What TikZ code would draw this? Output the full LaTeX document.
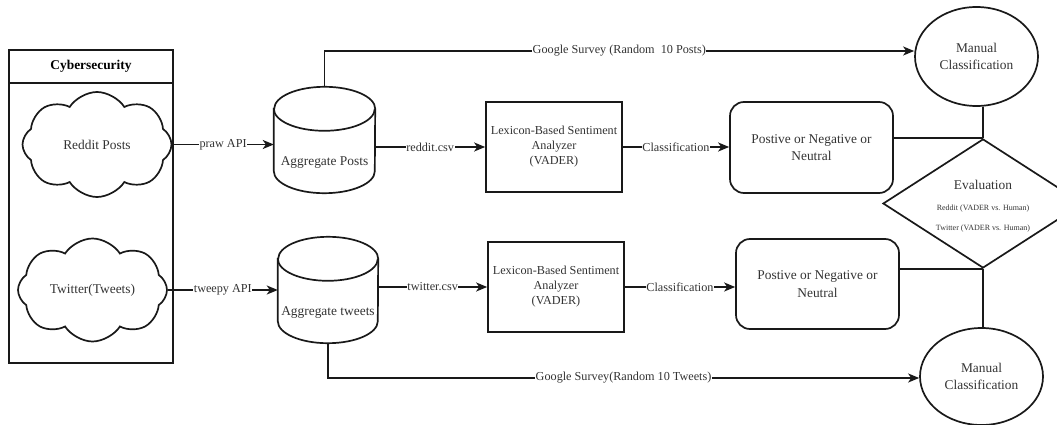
\documentclass[tikz,border=0pt]{standalone}
\usepackage{fontspec}
\setmainfont{Liberation Serif}
\usetikzlibrary{shapes.symbols,shapes.geometric,arrows.meta,calc}
\newcommand\myNF{\fontsize{13.4}{17.5}\selectfont}
\newcommand\myLF{\fontsize{12.2}{15}\selectfont}
\newcommand\mySF{\fontsize{8}{9.5}\selectfont}
\begin{document}
\begin{tikzpicture}[x=1pt,y=-1pt,
  ln/.style={line width=1.7pt, draw=black!90},
  arr/.style={ln, -{Stealth[length=11pt,width=9pt,inset=3pt]}},
  lbl/.style={fill=white, inner sep=0.5pt, font=\myLF, text=black!80},
  txt/.style={text=black!80},
  cloudn/.style={cloud, cloud puffs=8, cloud puff arc=115, cloud ignores aspect, draw, ln, inner sep=0pt, font=\myNF, txt},
  ghost/.style={draw=none, inner sep=0pt},
  lexbox/.style={draw, ln, rectangle, minimum width=136pt, minimum height=90pt, inner sep=0pt, align=center, font=\myLF, txt},
  resbox/.style={draw, ln, rectangle, rounded corners=14pt, minimum width=163pt, inner sep=0pt, align=center, font=\myNF, txt},
  manual/.style={draw, ln, ellipse, minimum width=123pt, inner sep=0pt, align=center, font=\myNF, txt}
]
\useasboundingbox (0,0) rectangle (1057,425);

% container
\node[draw, ln, minimum width=164pt, minimum height=33pt, inner sep=0pt, font=\myNF\bfseries] (hdr) at (91,66.5) {Cybersecurity};
\node[draw, ln, minimum width=164pt, minimum height=280pt, inner sep=0pt] (body) at (91,223) {};

% clouds
\node[cloudn, minimum width=149pt, minimum height=105pt] (reddit) at (97,144.5) {Reddit Posts};
\node[cloudn, minimum width=149pt, minimum height=103pt] (twitter) at (92.5,290) {Twitter(Tweets)};

% cylinders
\node[ghost, minimum width=101pt, minimum height=106pt] (agp) at (324.5,140) {};
\draw[ln] ([yshift=-22pt]agp.north west) -- ([yshift=22pt]agp.south west)
  arc[start angle=180,end angle=360,x radius=50.5pt,y radius=22pt]
  -- ([yshift=-22pt]agp.north east)
  arc[start angle=0,end angle=180,x radius=50.5pt,y radius=22pt] -- cycle;
\draw[ln] ([yshift=-22pt]agp.north west) arc[start angle=180,end angle=360,x radius=50.5pt,y radius=22pt];
\node[font=\myNF, txt] (agpt) at ([yshift=-23pt]agp.center) {Aggregate Posts};

\node[ghost, minimum width=100pt, minimum height=106pt] (agt) at (328,290) {};
\draw[ln] ([yshift=-22pt]agt.north west) -- ([yshift=22pt]agt.south west)
  arc[start angle=180,end angle=360,x radius=50pt,y radius=22pt]
  -- ([yshift=-22pt]agt.north east)
  arc[start angle=0,end angle=180,x radius=50pt,y radius=22pt] -- cycle;
\draw[ln] ([yshift=-22pt]agt.north west) arc[start angle=180,end angle=360,x radius=50pt,y radius=22pt];
\node[font=\myNF, txt] (agtt) at ([yshift=-23pt]agt.center) {Aggregate tweets};

% analyzers
\node[lexbox] (lex1) at (554,147) {Lexicon-Based Sentiment\\Analyzer\\(VADER)};
\node[lexbox] (lex2) at (556,287) {Lexicon-Based Sentiment\\Analyzer\\(VADER)};

% results
\node[resbox, minimum height=91pt] (rr1) at (811.5,147.5) {Postive or Negative or\\Neutral};
\node[resbox, minimum height=90pt] (rr2) at (817.5,284) {Postive or Negative or\\Neutral};

% manual classification
\node[manual, minimum height=99pt] (mc1) at (976.5,56.5) {Manual\\Classification};
\node[manual, minimum height=97pt] (mc2) at (981.5,376.5) {Manual\\Classification};

% evaluation
\node[draw, ln, diamond, minimum width=200pt, minimum height=129pt, inner sep=0pt] (dia) at (983,203.5) {};
\node[font=\myNF, txt] (evt) at ([yshift=18.5pt]dia.center) {Evaluation};
\node[font=\mySF, txt] (evr) at ([yshift=-5.5pt]dia.center) {Reddit (VADER vs. Human)};
\node[font=\mySF, txt] (evw) at ([yshift=-25.5pt]dia.center) {Twitter (VADER vs. Human)};

% connectors row 1
\draw[arr] (reddit.east) -- node[lbl]{praw API} (reddit.east -| agp.west);
\draw[arr] (lex1.west -| agp.east) -- node[lbl]{reddit.csv} (lex1.west);
\draw[arr] (lex1.east) -- node[lbl]{Classification} (lex1.east -| rr1.west);
\draw[arr] (agp.north) |- node[lbl, pos=0.75]{Google Survey (Random\ \ 10 Posts)} ([yshift=5.5pt]mc1.west);

% connectors row 2
\draw[arr] (twitter.east) -- node[lbl]{tweepy API} (twitter.east -| agt.west);
\draw[arr] (lex2.west -| agt.east) -- node[lbl]{twitter.csv} (lex2.west);
\draw[arr] (lex2.east) -- node[lbl]{Classification} (lex2.east -| rr2.west);
\draw[arr] (agt.south) |- node[lbl, pos=0.75]{Google Survey(Random 10 Tweets)} ([yshift=-1.5pt]mc2.west);

% evaluation links
\draw[ln] (dia.north -| rr1.east) -- (dia.north);
\draw[ln] (dia.north) -- (dia.north |- mc1.south);
\draw[ln] (dia.south -| rr2.east) -- (dia.south);
\draw[ln] (dia.south) -- (dia.south |- mc2.north);
\end{tikzpicture}
\end{document}
